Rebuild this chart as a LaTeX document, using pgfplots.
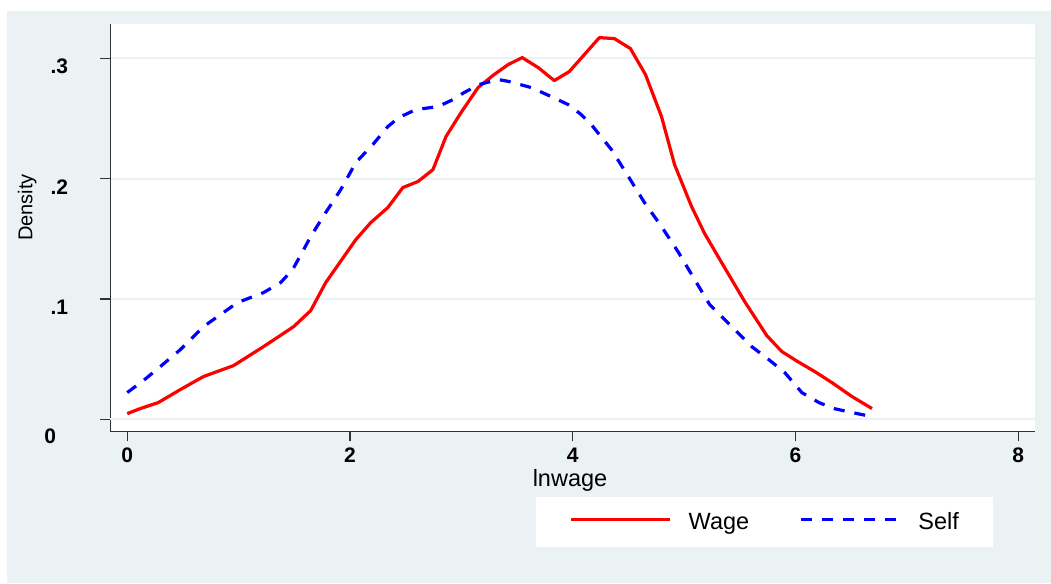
\documentclass[border=0pt]{standalone}
\usepackage{pgfplots}
\pgfplotsset{compat=1.18}
\usepackage{fontspec}
\setmainfont{Liberation Sans}
\definecolor{stbg}{RGB}{234,242,243}
\definecolor{axisgray}{RGB}{50,50,50}

\begin{document}
\begin{tikzpicture}[x=1pt,y=1pt]
\useasboundingbox (0,0) rectangle (1051,583);
\fill[white] (0,0) rectangle (1051,583);
\fill[stbg] (7,0) rectangle (1051,572);
\begin{axis}[
    at={(99,126)}, anchor=south west,
    scale only axis, width=925pt, height=407pt,
    xmin=-0.1526, xmax=8.153,
    ymin=-0.00998, ymax=0.3283,
    axis background/.style={fill=white},
    axis x line*=bottom, axis y line*=left,
    axis line style={-, axisgray, line width=1.3pt},
    tick align=outside, major tick length=10pt,
    tick style={axisgray, line width=1.3pt},
    xtick={0,2,4,6,8},
    ytick={0.1,0.2,0.3}, yticklabels={.1,.2,.3},
    extra y ticks={0}, extra y tick labels={0},
    extra y tick style={grid=major, yticklabel style={xshift=-12pt, yshift=-9pt}},
    ymajorgrids=true,
    major grid style={stbg, line width=2pt},
    /pgf/number format/assume math mode=true,
    ticklabel style={font=\fontsize{21}{21}\selectfont\bfseries, inner sep=0pt},
    xticklabel style={anchor=north, yshift=-6pt},
    yticklabel style={anchor=east, xshift=-32pt, yshift=-8pt},
    xlabel={lnwage},
    every axis x label/.style={at={(axis description cs:0.497,-0.1351)}, anchor=base,
        font=\fontsize{23.5}{24}\selectfont, inner sep=0pt},
    ylabel={Density},
    every axis y label/.style={at={(axis description cs:-0.0843,0.55)}, rotate=90, anchor=base,
        font=\fontsize{20}{20}\selectfont, inner sep=0pt},
    legend columns=2,
    legend cell align=left,
    legend image code/.code={\draw[#1] (0pt,2pt) -- (99pt,2pt);},
    legend style={at={(axis description cs:0.4595,0)}, anchor=north west, yshift=-65pt,
        draw=none, fill=white, inner xsep=34pt, inner ysep=16pt,
        font=\fontsize{23.5}{24}\selectfont,
        nodes={inner sep=0pt},
        column sep=17pt,
        /tikz/every even column/.append style={column sep=50pt}},
]

\addplot[red, line width=3.2pt, line join=round] coordinates {
(0.000,0.0048)(0.117,0.0090)(0.279,0.0140)(0.477,0.0248)(0.684,0.0356)(0.954,0.0447)
(1.224,0.0605)(1.494,0.0771)(1.647,0.0904)(1.782,0.1137)(2.052,0.1494)(2.187,0.1636)
(2.340,0.1761)(2.475,0.1927)(2.610,0.1977)(2.745,0.2076)(2.862,0.2351)(2.997,0.2550)
(3.150,0.2758)(3.294,0.2866)(3.420,0.2949)(3.546,0.3007)(3.690,0.2924)(3.834,0.2816)
(3.969,0.2891)(4.104,0.3032)(4.239,0.3173)(4.374,0.3165)(4.518,0.3082)(4.653,0.2866)
(4.797,0.2517)(4.914,0.2118)(5.067,0.1769)(5.184,0.1545)(5.337,0.1303)(5.544,0.0979)
(5.742,0.0697)(5.877,0.0564)(6.021,0.0480)(6.174,0.0397)(6.327,0.0306)(6.507,0.0190)
(6.687,0.0090)
};
\addlegendentry{Wage}

\addplot[blue, line width=3.2pt, dash pattern=on 11pt off 10pt, line join=round] coordinates {
(0.000,0.0223)(0.144,0.0322)(0.297,0.0439)(0.477,0.0580)(0.684,0.0771)(0.990,0.0971)
(1.224,0.1054)(1.377,0.1137)(1.485,0.1245)(1.584,0.1411)(1.647,0.1520)(1.782,0.1719)
(1.917,0.1910)(2.052,0.2134)(2.205,0.2284)(2.340,0.2434)(2.439,0.2509)(2.592,0.2575)
(2.790,0.2600)(2.925,0.2658)(3.024,0.2716)(3.159,0.2783)(3.330,0.2825)(3.429,0.2808)
(3.627,0.2758)(3.807,0.2683)(3.960,0.2616)(4.077,0.2533)(4.167,0.2450)(4.347,0.2243)
(4.500,0.2018)(4.644,0.1802)(4.797,0.1603)(4.950,0.1387)(5.094,0.1163)(5.229,0.0955)
(5.454,0.0746)(5.607,0.0605)(5.760,0.0497)(5.904,0.0389)(6.057,0.0223)(6.210,0.0140)
(6.345,0.0090)(6.507,0.0057)(6.687,0.0023)
};
\addlegendentry{Self}

\end{axis}
\end{tikzpicture}
\end{document}
